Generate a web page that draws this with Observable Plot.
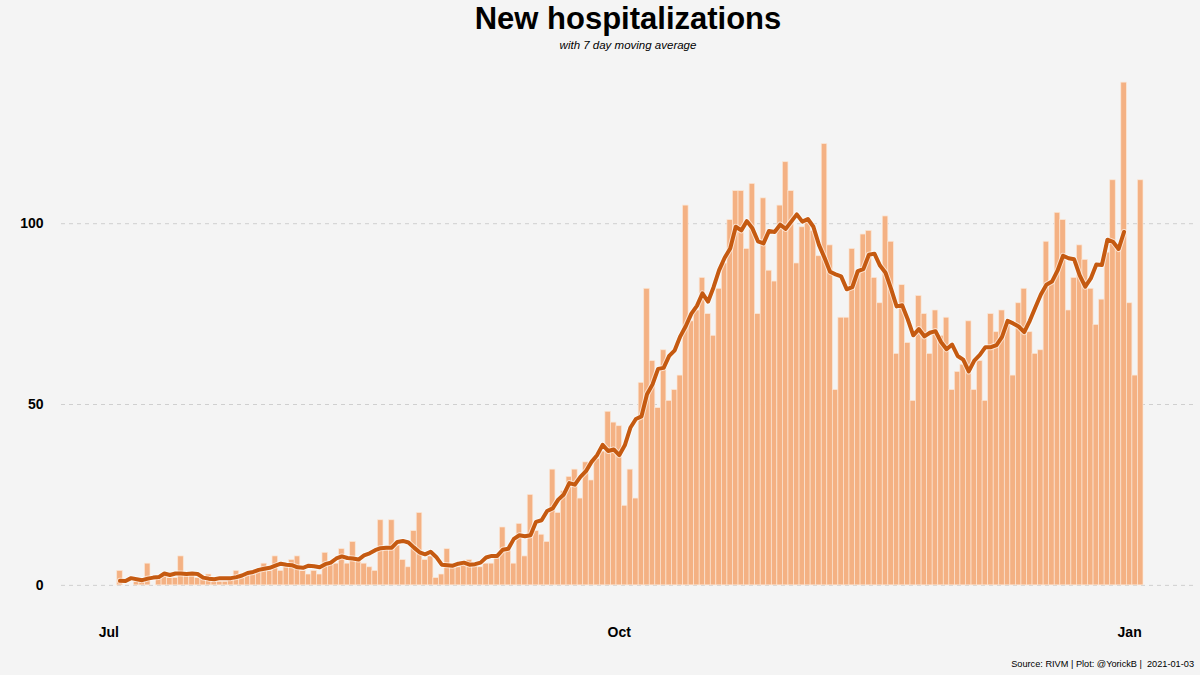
<!DOCTYPE html>
<html>
<head>
<meta charset="utf-8">
<script src="https://cdn.jsdelivr.net/npm/d3@7"></script>
<script src="https://cdn.jsdelivr.net/npm/@observablehq/plot@0.6"></script>
<style>
  html, body { margin: 0; padding: 0; background: #f4f4f4; }
  body { width: 1200px; height: 675px; overflow: hidden; font-family: "Liberation Sans", Arial, sans-serif; color: #000; }
  .title { height: 37px; line-height: 37px; font-size: 31px; font-weight: bold; text-align: center; padding: 0 5px 0 61px; }
  .subtitle { height: 16px; line-height: 16px; font-size: 11.5px; font-style: italic; text-align: center; padding: 0 5px 0 61px; }
  .caption { height: 25px; line-height: 28px; font-size: 9.2px; text-align: right; padding-right: 6px; white-space: pre; }
  #chart svg { display: block; }
</style>
</head>
<body>
<div class="title">New hospitalizations</div>
<div class="subtitle">with 7 day moving average</div>
<div id="chart"></div>
<div class="caption">Source: RIVM | Plot: @YorickB |  2021-01-03</div>
<script>
// first day of the series (2020-07-03), one bar per day
const startDate = new Date(Date.UTC(2020, 6, 3));
// daily new hospitalizations
const values = [
  4,0,0,1,1,6,0,2,3,2,
  2,8,3,3,2,2,3,1,1,1,
  2,4,2,3,3,4,6,4,8,4,
  5,7,8,4,3,4,3,9,6,6,
  10,6,12,7,6,5,4,18,10,18,
  11,7,5,15,20,7,8,2,3,10,
  5,5,6,7,6,5,6,6,8,16,
  10,6,17,8,25,15,14,12,32,20,
  26,30,32,24,34,29,35,37,48,45,
  44,22,32,24,56,82,62,49,65,51,
  54,58,105,73,76,85,75,69,82,89,
  101,109,109,93,111,75,107,87,84,105,
  117,109,89,99,101,98,91,122,94,54,
  74,74,93,87,97,98,85,78,102,95,
  64,83,67,51,80,75,64,76,69,74,
  54,59,61,73,54,62,51,75,70,76,
  73,58,78,82,70,64,65,95,84,103,
  101,76,85,94,90,82,72,79,92,112,
  93,139,78,58,112
];
const xTickDates = ["2020-07-01", "2020-10-01", "2021-01-01"];
const xTickLabels = ["Jul", "Oct", "Jan"];
const yTicks = [0, 50, 100];
const windowDays = 7;

const data = values.map((v, i) => ({date: d3.utcDay.offset(startDate, i), value: v}));
const half = Math.floor(windowDays / 2);
// centered 7-day moving average (last 3 days have no complete window)
const avg = data.slice(0, data.length - half).map((d, i) => ({
  date: d.date,
  avg: d3.mean(values.slice(Math.max(0, i - half), i + half + 1))
}));

const first = data[0].date, last = data[data.length - 1].date;
const xTicks = xTickDates.map(s => new Date(s + "T00:00:00Z"));
const labelOf = new Map(xTicks.map((d, i) => [+d, xTickLabels[i]]));

const chart = Plot.plot({
  width: 1200,
  height: 597,
  marginLeft: 61,
  marginRight: 5,
  marginTop: 4,
  marginBottom: 40,
  style: {background: "transparent", fontFamily: "Liberation Sans, Arial, sans-serif", fontSize: "14px", fontWeight: "bold", color: "#000"},
  x: {type: "utc", domain: [d3.utcHour.offset(first, -253), d3.utcHour.offset(last, 237)]},
  y: {domain: [-6.95, 145.95]},
  marks: [
    Plot.ruleY(yTicks, {stroke: "#cfcfcf", strokeWidth: 1, strokeDasharray: "4,4"}),
    Plot.rectY(data, {
      x1: d => d3.utcHour.offset(d.date, -12),
      x2: d => d3.utcHour.offset(d.date, 12),
      y1: 0, y2: "value",
      fill: "#F4B183", stroke: "#FBE6D5", strokeWidth: 0.7
    }),
    Plot.lineY(avg, {x: "date", y: "avg", stroke: "#ffffff", strokeOpacity: 0.6, strokeWidth: 6, strokeLinejoin: "round", strokeLinecap: "round"}),
    Plot.lineY(avg, {x: "date", y: "avg", stroke: "#C55A11", strokeWidth: 4, strokeLinejoin: "round", strokeLinecap: "round"}),
    Plot.axisX({ticks: xTicks, tickFormat: d => labelOf.get(+d), tickSize: 0, tickPadding: 17, label: null}),
    Plot.axisY({ticks: yTicks, tickSize: 0, tickPadding: 18, label: null})
  ]
});
document.getElementById("chart").appendChild(chart);
</script>
</body>
</html>
